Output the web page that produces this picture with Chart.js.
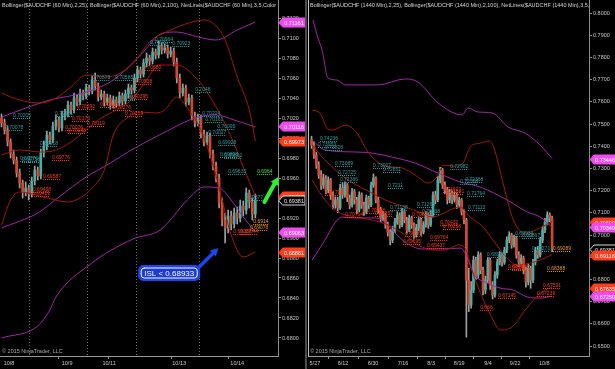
<!DOCTYPE html>
<html><head><meta charset="utf-8">
<script src="https://cdn.jsdelivr.net/npm/chart.js@4/dist/chart.umd.min.js"></script>
<style>
html,body{margin:0;padding:0;background:#000;}
#wrap{position:relative;width:615px;height:369px;background:#000;overflow:hidden;}
#c1{position:absolute;left:0;top:0;}
#c2{position:absolute;left:307px;top:0;}
#sep{position:absolute;left:305px;top:0;width:2px;height:369px;background:#4a4a4a;}
</style></head><body>
<div id="wrap"><canvas id="c1" width="305" height="369"></canvas><div id="sep"></div><canvas id="c2" width="308" height="369"></canvas></div>
<script>
// ---------------- LEFT PANEL (60 min) DATA ----------------
const L_header = 'Bollinger($AUDCHF (60 Min),2,25), Bollinger($AUDCHF (60 Min),2,100), NetLines($AUDCHF (60 Min),3,5,Color [Lime]';
const L_dateIdx = [2.5, 21.7, 35.6, 58.8, 78];
const L_dateTxt = ['10/8', '10/9', '10/11', '10/13', '10/14'];
const L_sepIdx = [16.1, 35.3, 53.5, 72.3];
const L_yTicks = [0.6800,0.6820,0.6840,0.6860,0.6880,0.6900,0.6920,0.6940,0.6960,0.6980,0.7000,0.7020,0.7040,0.7060,0.7080,0.7100,0.7120];
const L_open = [0.7020,0.7015,0.7008,0.6996,0.6984,0.6978,0.6965,0.6955,0.6946,0.6950,
0.6944,0.6957,0.6968,0.6962,0.6985,0.6992,0.7003,0.6998,0.7012,0.7018,
0.7010,0.7022,0.7025,0.7033,0.7028,0.7040,0.7036,0.7045,0.7042,0.7050,
0.7047,0.7058,0.7052,0.7041,0.7044,0.7036,0.7040,0.7033,0.7038,0.7035,
0.7042,0.7037,0.7044,0.7050,0.7048,0.7060,0.7068,0.7064,0.7075,0.7080,
0.7077,0.7086,0.7083,0.7092,0.7088,0.7090,0.7084,0.7087,0.7076,0.7060,
0.7045,0.7050,0.7036,0.7040,0.7022,0.7015,0.7020,0.7004,0.6996,0.7002,
0.6984,0.6972,0.6960,0.6935,0.6918,0.6910,0.6922,0.6914,0.6925,0.6920,
0.6932,0.6928,0.6945,0.6936,0.6924];
const L_high = [0.7024,0.7019,0.7012,0.6999,0.6988,0.6981,0.6969,0.6958,0.6956,0.6953,
0.6961,0.6972,0.6971,0.6989,0.6997,0.7007,0.7006,0.7016,0.7023,0.7021,
0.7027,0.7029,0.7037,0.7036,0.7045,0.7043,0.7049,0.7048,0.7054,0.7053,
0.7062,0.7065,0.7055,0.7048,0.7047,0.7044,0.7043,0.7042,0.7041,0.7046,
0.7045,0.7048,0.7054,0.7053,0.7064,0.7072,0.7071,0.7079,0.7085,0.7083,
0.7090,0.7089,0.7097,0.7095,0.7094,0.7093,0.7091,0.7090,0.7080,0.7064,
0.7054,0.7053,0.7044,0.7043,0.7026,0.7024,0.7023,0.7008,0.7006,0.7005,
0.6988,0.6976,0.6964,0.6940,0.6925,0.6928,0.6927,0.6930,0.6931,0.6938,
0.6937,0.6950,0.6948,0.6940,0.6944];
const L_low = [0.7011,0.7004,0.6992,0.6980,0.6974,0.6961,0.6950,0.6940,0.6942,0.6938,
0.6941,0.6953,0.6958,0.6959,0.6981,0.6988,0.6994,0.6995,0.7008,0.7006,
0.7007,0.7018,0.7021,0.7024,0.7025,0.7032,0.7033,0.7038,0.7039,0.7043,
0.7044,0.7048,0.7037,0.7038,0.7032,0.7033,0.7029,0.7030,0.7031,0.7032,
0.7033,0.7034,0.7040,0.7044,0.7045,0.7056,0.7060,0.7061,0.7071,0.7073,
0.7074,0.7079,0.7080,0.7084,0.7085,0.7080,0.7081,0.7072,0.7055,0.7040,
0.7042,0.7032,0.7033,0.7018,0.7011,0.7012,0.7000,0.6992,0.6993,0.6980,
0.6968,0.6956,0.6930,0.6912,0.6895,0.6905,0.6908,0.6910,0.6914,0.6916,
0.6922,0.6924,0.6930,0.6918,0.6920];
const L_close = [0.7015,0.7008,0.6996,0.6984,0.6978,0.6965,0.6955,0.6946,0.6950,0.6944,
0.6957,0.6968,0.6962,0.6985,0.6992,0.7003,0.6998,0.7012,0.7018,0.7010,
0.7022,0.7025,0.7033,0.7028,0.7040,0.7036,0.7045,0.7042,0.7050,0.7047,
0.7058,0.7052,0.7041,0.7044,0.7036,0.7040,0.7033,0.7038,0.7035,0.7042,
0.7037,0.7044,0.7050,0.7048,0.7060,0.7068,0.7064,0.7075,0.7080,0.7077,
0.7086,0.7083,0.7092,0.7088,0.7090,0.7084,0.7087,0.7076,0.7060,0.7045,
0.7050,0.7036,0.7040,0.7022,0.7015,0.7020,0.7004,0.6996,0.7002,0.6984,
0.6972,0.6960,0.6935,0.6918,0.6910,0.6922,0.6914,0.6925,0.6920,0.6932,
0.6928,0.6945,0.6936,0.6924,0.6938];
// Bollinger(2,25) - red
const L_bb25UpX = [0,6,13,18,23,28,34,38,44,49,56,62,67,71,74,78,82,84];
const L_bb25UpY = [0.7045,0.7038,0.7035,0.7040,0.7051,0.7063,0.7061,0.7063,0.7076,0.7096,0.7108,0.7115,0.7118,0.7112,0.7098,0.7061,0.7028,0.6997];
const L_bb25MidX = [0,6,13,18,23,28,33,38,43,48,52,58,65,71,76,80,84];
const L_bb25MidY = [0.6983,0.6988,0.6986,0.6988,0.6996,0.7008,0.7020,0.7028,0.7038,0.7058,0.7073,0.7073,0.7058,0.7031,0.7001,0.6971,0.6942];
const L_bb25LoX = [0,3,6,14,22,26,30,34,37,42,46,51,54,58,62,66,70,73,76,80,84];
const L_bb25LoY = [0.6913,0.6938,0.6946,0.6941,0.6936,0.6940,0.6950,0.6968,0.7003,0.7021,0.7026,0.7025,0.7028,0.7041,0.7028,0.7008,0.6973,0.6938,0.6903,0.6881,0.6886];
// Bollinger(2,100) - magenta
const L_bb100UpX = [0,16,27,36,41,46,53.5,58,65,71,78,84];
const L_bb100UpY = [0.7021,0.7038,0.7045,0.7056,0.7068,0.7083,0.7105,0.7106,0.7101,0.7098,0.7108,0.7116];
const L_bb100MidX = [0,12,19,28,36,43,53.5,65,71,77,84];
const L_bb100MidY = [0.6910,0.6925,0.6941,0.6961,0.6975,0.6988,0.7005,0.7021,0.7023,0.7018,0.7011];
const L_bb100LoX = [0,12,16,18,29,43.5,52.5,61.5,67,72,76,80,84];
const L_bb100LoY = [0.6800,0.6812,0.6828,0.6841,0.6873,0.6899,0.6908,0.6938,0.6951,0.6950,0.6938,0.6921,0.6906];
// NetLines price labels: [text, start bar, colour key]
const L_labels = [
['0.70078',1.2,'c'],['0.70205',3.8,'c'],['0.69770',6.1,'c'],['0.69758',6.8,'c'],['0.69918',12.7,'c'],['0.70221',17.7,'c'],
['0.70578',30,'c'],['0.70585',37.6,'c'],['0.70381',38.6,'c'],['0.70931',49.2,'c'],['0.70964',50.8,'c'],['0.70923',56.5,'c'],
['0.7046',64.1,'c'],['0.70224',66.4,'c'],['0.70161',67.4,'c'],['0.70027',68.4,'c'],['0.70095',71.4,'c'],['0.69928',71.7,'c'],
['0.69808',72.3,'c'],['0.69802',73.7,'c'],['0.69635',75,'c'],['0.69377',80.6,'c'],
['0.6964',84.6,'g'],['0.69076',82.3,'o'],['0.6914',83.3,'o'],
['0.70680',46.9,'r'],['0.70538',43.9,'r'],['0.70395',42.5,'r'],['0.70276',36.9,'r'],['0.70219',40.9,'r'],['0.70306',32.6,'r'],
['0.70292',25,'r'],['0.70175',23.3,'r'],['0.70119',28.3,'r'],['0.70076',21,'r'],['0.70048',22,'r'],['0.69776',16.7,'r'],
['0.69587',13.7,'r'],['0.69458',10.4,'r'],['0.69421',10.1,'r'],['0.69044',79,'r'],['0.69037',76.7,'r']
];
// axis price markers: [value, kind]
const L_tags = [[0.71161,'m'],[0.70116,'m'],[0.69973,'r'],[0.69417,'r'],[0.69381,'k'],[0.69063,'m'],[0.68861,'r']];
// drawn annotations (data units)
const L_islText = 'ISL < 0.68933';
const L_islAt = [55.5, 0.6865];
const L_blueArrow = [[65.1, 0.6870], [71.8, 0.6890]];
const L_greenArrow = [[87, 0.6936], [91.6, 0.6961]];

// ---------------- RIGHT PANEL (1440 min) DATA ----------------
const R_header = 'Bollinger($AUDCHF (1440 Min),2,25), Bollinger($AUDCHF (1440 Min),2,100), NetLines($AUDCHF (1440 Min),3,5,Color [Lime]';
const R_start = 1;
const R_dateIdx = [2.4, 14.2, 26.8, 39.4, 51.2, 63, 75.1, 86.5, 98.7];
const R_dateTxt = ['5/27','6/12','6/30','7/16','8/3','8/19','9/4','9/22','10/8'];
const R_yTicks = [0.65,0.66,0.67,0.68,0.69,0.70,0.71,0.72,0.73,0.74,0.75,0.76,0.77,0.78,0.79,0.80];
const R_open = [0.7430,0.7405,0.7360,0.7315,0.7270,0.7225,0.7257,0.7203,0.7248,0.7180,
0.7135,0.7158,0.7122,0.7212,0.7180,0.7225,0.7167,0.7135,0.7194,0.7158,
0.7113,0.7180,0.7135,0.7104,0.7167,0.7135,0.7225,0.7257,0.7158,0.7113,
0.7077,0.7090,0.7045,0.7014,0.6977,0.7023,0.7059,0.7090,0.7045,0.7104,
0.7068,0.7023,0.7077,0.7045,0.7000,0.7032,0.7068,0.7014,0.7045,0.7090,
0.7045,0.7090,0.7180,0.7158,0.7248,0.7293,0.7225,0.7203,0.7158,0.7189,
0.7158,0.7180,0.7135,0.7158,0.7104,0.7068,0.6797,0.6685,0.6752,0.6887,
0.6820,0.6910,0.6842,0.6752,0.6797,0.6887,0.6775,0.6730,0.6820,0.6878,
0.6910,0.6878,0.6932,0.6977,0.7000,0.6955,0.6986,0.6910,0.6878,0.6896,
0.6842,0.6788,0.6851,0.6797,0.6878,0.6932,0.6910,0.6977,0.7023,0.7059,
0.7090,0.7077];
const R_high = [0.7445,0.7420,0.7372,0.7330,0.7290,0.7275,0.7268,0.7262,0.7255,0.7195,
0.7172,0.7170,0.7228,0.7235,0.7240,0.7232,0.7180,0.7210,0.7205,0.7170,
0.7195,0.7190,0.7148,0.7180,0.7175,0.7238,0.7275,0.7262,0.7170,0.7125,
0.7108,0.7098,0.7058,0.7025,0.7040,0.7075,0.7105,0.7100,0.7120,0.7115,
0.7080,0.7090,0.7085,0.7055,0.7048,0.7082,0.7075,0.7060,0.7105,0.7098,
0.7110,0.7195,0.7198,0.7265,0.7305,0.7300,0.7240,0.7215,0.7205,0.7198,
0.7195,0.7188,0.7170,0.7165,0.7115,0.7075,0.6850,0.6790,0.6905,0.6900,
0.6925,0.6920,0.6855,0.6815,0.6900,0.6895,0.6790,0.6835,0.6892,0.6925,
0.6920,0.6945,0.6992,0.7015,0.7008,0.7000,0.6995,0.6925,0.6912,0.6905,
0.6855,0.6868,0.6860,0.6890,0.6945,0.6948,0.6990,0.7040,0.7075,0.7105,
0.7100,0.7085];
const R_low = [0.7390,0.7345,0.7300,0.7255,0.7205,0.7210,0.7185,0.7190,0.7160,0.7118,
0.7120,0.7100,0.7115,0.7165,0.7170,0.7150,0.7118,0.7125,0.7140,0.7095,
0.7105,0.7120,0.7088,0.7095,0.7118,0.7128,0.7215,0.7145,0.7098,0.7060,
0.7065,0.7030,0.6995,0.6955,0.6965,0.7010,0.7048,0.7030,0.7038,0.7055,
0.7008,0.7015,0.7030,0.6985,0.6990,0.7020,0.6998,0.7005,0.7035,0.7030,
0.7038,0.7080,0.7140,0.7150,0.7235,0.7210,0.7185,0.7140,0.7145,0.7140,
0.7148,0.7120,0.7125,0.7090,0.7050,0.6540,0.6655,0.6670,0.6740,0.6800,
0.6805,0.6825,0.6730,0.6735,0.6785,0.6755,0.6712,0.6720,0.6805,0.6865,
0.6860,0.6868,0.6920,0.6965,0.6940,0.6945,0.6895,0.6860,0.6865,0.6825,
0.6765,0.6775,0.6760,0.6785,0.6865,0.6895,0.6900,0.6965,0.7010,0.7045,
0.7060,0.6925];
const R_close = [0.7405,0.7360,0.7315,0.7270,0.7225,0.7257,0.7203,0.7248,0.7180,0.7135,
0.7158,0.7122,0.7212,0.7180,0.7225,0.7167,0.7135,0.7194,0.7158,0.7113,
0.7180,0.7135,0.7104,0.7167,0.7135,0.7225,0.7257,0.7158,0.7113,0.7077,
0.7090,0.7045,0.7014,0.6977,0.7023,0.7059,0.7090,0.7045,0.7104,0.7068,
0.7023,0.7077,0.7045,0.7000,0.7032,0.7068,0.7014,0.7045,0.7090,0.7045,
0.7090,0.7180,0.7158,0.7248,0.7293,0.7225,0.7203,0.7158,0.7189,0.7158,
0.7180,0.7135,0.7158,0.7104,0.7068,0.6797,0.6685,0.6752,0.6887,0.6820,
0.6910,0.6842,0.6752,0.6797,0.6887,0.6775,0.6730,0.6820,0.6878,0.6910,
0.6878,0.6932,0.6977,0.7000,0.6955,0.6986,0.6910,0.6878,0.6896,0.6842,
0.6788,0.6851,0.6797,0.6878,0.6932,0.6910,0.6977,0.7023,0.7059,0.7090,
0.7077,0.6938];
const R_bb25UpX = [1.2,4.5,7.5,10,15.1,20.1,23.4,26.4,31.9,39,44.5,49.9,53.3,56.6,61.3,64.6,67.6,71.8,76,77.6,81.4,85.7,90.7,97,102];
const R_bb25UpY = [0.7563,0.7550,0.7482,0.7473,0.7495,0.7459,0.7396,0.7351,0.7311,0.7302,0.7270,0.7234,0.7257,0.7315,0.7310,0.7324,0.7396,0.7414,0.7423,0.7392,0.7234,0.7068,0.7009,0.7032,0.7060];
const R_bb25MidX = [1.2,6.6,16.3,26.4,31.9,40.3,47.4,51.6,55,59.2,63.4,67.6,73,77.2,83.1,87.4,92.8,97,102];
const R_bb25MidY = [0.7405,0.7338,0.7248,0.7189,0.7158,0.7126,0.7099,0.7081,0.7090,0.7113,0.7126,0.7081,0.7036,0.6977,0.6896,0.6865,0.6874,0.6887,0.6912];
const R_bb25LoX = [1.2,6.6,12.1,19.2,26.4,33.1,40.3,45.7,52.9,57.1,62.5,65.9,68.4,70.9,76.8,80.2,85.2,90.7,94.9,99.1,102];
const R_bb25LoY = [0.7248,0.7158,0.7104,0.7081,0.7068,0.7045,0.7000,0.6955,0.6932,0.6932,0.6955,0.6932,0.6842,0.6766,0.6626,0.6572,0.6586,0.6662,0.6716,0.6752,0.6764];
const R_bb100UpX = [1.6,3.7,5.4,7.9,11.7,15.1,28.9,40.3,45.7,54.1,64.2,66.7,70.9,76.8,83.6,90.7,97,102];
const R_bb100UpY = [0.7968,0.7887,0.7833,0.7707,0.7698,0.7676,0.7676,0.7703,0.7689,0.7595,0.7541,0.7572,0.7554,0.7550,0.7486,0.7459,0.7405,0.7345];
const R_bb100MidX = [1.2,6.6,19.2,26.4,34.8,44.5,54.1,63.4,71.8,83.1,91.5,97,102];
const R_bb100MidY = [0.7428,0.7383,0.7374,0.7369,0.7351,0.7324,0.7279,0.7239,0.7216,0.7158,0.7104,0.7081,0.7035];
const R_bb100LoX = [1.2,6.6,10.8,13.8,18,26.4,30.6,36.1,40.3,47.4,54.1,63.4,66.3,68.8,74.7,80.2,85.7,91.5,97,102];
const R_bb100LoY = [0.6887,0.6977,0.7054,0.7081,0.7077,0.7077,0.7068,0.7009,0.6968,0.6937,0.6937,0.6941,0.6901,0.6829,0.6784,0.6761,0.6752,0.6721,0.6716,0.6725];
const R_labels = [
['0.73953',3.7,'c'],['0.74236',4.5,'c'],['0.73828',6.6,'c'],['0.73089',10.8,'c'],['0.72725',12.1,'c'],['0.72366',12.9,'c'],
['0.73007',26.8,'c'],['0.72851',31,'c'],['0.7211',33.1,'c'],['0.71138',34,'c'],['0.71265',45.3,'c'],['0.70938',47.4,'c'],
['0.72982',59.2,'c'],['0.72308',63.4,'c'],['0.72368',65.5,'c'],['0.71764',66.3,'c'],['0.71113',66.7,'c'],['0.68993',74.7,'c'],
['0.69934',86.5,'c'],['0.69867',89.4,'c'],['0.69271',93.6,'c'],
['0.71798',6.6,'r'],['0.70794',15.1,'r'],['0.70988',24.3,'r'],['0.70857',27.6,'r'],['0.69595',39.4,'r'],['0.69967',40.3,'r'],
['0.70811',43.2,'r'],['0.69437',49.5,'r'],['0.69764',50.8,'r'],['0.70432',55,'r'],['0.70258',56.2,'r'],['0.71927',56.2,'r'],
['0.71841',57.5,'r'],['0.666',71.8,'r'],['0.67145',79.3,'r'],['0.68468',83.5,'r'],['0.68437',85.2,'r'],['0.67239',95.7,'r'],
['0.67591',98.2,'r'],['0.68388',99.9,'o'],['0.69289',102.4,'o']
];
const R_tags = [[0.73446,'m'],[0.70600,'r'],[0.70349,'m'],[0.69381,'k'],[0.69118,'r'],[0.67635,'r'],[0.67250,'m']];
const COPYRIGHT = '\u00A9 2015 NinjaTrader, LLC';

// ---------------- STYLE ----------------
const FONT = "'Liberation Sans', Arial, sans-serif";
const COL = {up:'#4aaea6', down:'#d5482e', wick:'#a0a0a0', mag:'#a126a8', red:'#a3170c',
  lab:{c:'#2e9fa0', r:'#ff3c1c', o:'#f29a1a', g:'#40e040'},
  tag:{m:['#f24af2','#ffffff','#f24af2'], r:['#ff3c1c','#ffffff','#ff3c1c'], k:['#000000','#e6e6e6','#d8d8d8']}};
Chart.defaults.font.family = FONT;

function candleSets(start, O, H, L, C){
  return [
    {type:'bar', data:H.map((h,k)=>({x:start+k, y:[L[k],h]})), backgroundColor:COL.wick, barThickness:1, grouped:false, order:3},
    {type:'bar', data:O.map((o,k)=>({x:start+k, y:[o,C[k]]})), backgroundColor:O.map((o,k)=>C[k]>=o?COL.up:COL.down), barThickness:2, minBarLength:1, grouped:false, order:2}
  ];
}
function band(X, Y, color){
  return {type:'line', data:X.map((x,k)=>({x:x, y:Y[k]})), borderColor:color, borderWidth:1, pointRadius:0, cubicInterpolationMode:'monotone', order:1};
}
function arrow(ctx, x1, y1, x2, y2, color, w, head){
  const a = Math.atan2(y2-y1, x2-x1);
  ctx.strokeStyle=color; ctx.fillStyle=color; ctx.lineWidth=w; ctx.lineCap='round'; ctx.setLineDash([]);
  ctx.beginPath(); ctx.moveTo(x1,y1); ctx.lineTo(x2-Math.cos(a)*head*0.8, y2-Math.sin(a)*head*0.8); ctx.stroke();
  ctx.beginPath(); ctx.moveTo(x2,y2);
  ctx.lineTo(x2-Math.cos(a-0.5)*head, y2-Math.sin(a-0.5)*head);
  ctx.lineTo(x2-Math.cos(a+0.5)*head, y2-Math.sin(a+0.5)*head);
  ctx.closePath(); ctx.fill();
}
function overlay(o){
  return {id:'overlay', 
    beforeDraw(chart){ const c=chart.ctx; c.save(); c.fillStyle='#000'; c.fillRect(0,0,chart.width,chart.height); c.restore(); },
    afterDraw(chart){
      const ctx=chart.ctx, a=chart.chartArea, xs=chart.scales.x, ys=chart.scales.y;
      ctx.save();
      ctx.beginPath(); ctx.rect(a.left,a.top,a.right-a.left,a.bottom-a.top); ctx.clip();
      ctx.font='5px '+FONT; ctx.textBaseline='alphabetic'; ctx.textAlign='left';
      o.labels.forEach(([t,i,k])=>{
        const px=xs.getPixelForValue(i), py=Math.round(ys.getPixelForValue(parseFloat(t)))+0.5;
        const w=ctx.measureText(t).width;
        ctx.strokeStyle=COL.lab[k]; ctx.fillStyle=COL.lab[k]; ctx.lineWidth=1; ctx.setLineDash([1,1]);
        ctx.beginPath(); ctx.moveTo(px,py); ctx.lineTo(px+w,py); ctx.stroke();
        ctx.fillText(t, px, py-1.5);
      });
      ctx.setLineDash([]);
      ctx.font='5.5px '+FONT; ctx.fillStyle='#d4d4d4';
      ctx.fillText(o.header, a.left+2, 7);
      ctx.fillStyle='#a8a8a8';
      ctx.fillText(COPYRIGHT, a.left+2, a.bottom-3);
      if(o.left){ ctx.strokeStyle='#c0c0c0'; ctx.lineWidth=1; ctx.beginPath(); ctx.moveTo(a.left+0.5,a.top); ctx.lineTo(a.left+0.5,a.bottom); ctx.stroke(); }
      ctx.restore();
      ctx.save();
      if(o.ann){
        const n=o.ann;
        const gx1=xs.getPixelForValue(n.green[0][0]), gy1=ys.getPixelForValue(n.green[0][1]);
        const gx2=xs.getPixelForValue(n.green[1][0]), gy2=ys.getPixelForValue(n.green[1][1]);
        arrow(ctx,gx1,gy1,gx2,gy2,'#2cf22c',4,9);
        const bx1=xs.getPixelForValue(n.blue[0][0]), by1=ys.getPixelForValue(n.blue[0][1]);
        const bx2=xs.getPixelForValue(n.blue[1][0]), by2=ys.getPixelForValue(n.blue[1][1]);
        arrow(ctx,bx1,by1,bx2,by2,'#1846f0',3.5,9);
        const cx=xs.getPixelForValue(n.at[0]), cy=ys.getPixelForValue(n.at[1]);
        ctx.font='8px '+FONT;
        const w=ctx.measureText(n.text).width+10, h=14;
        ctx.beginPath(); ctx.roundRect(cx-w/2, cy-h/2, w, h, 4);
        ctx.fillStyle='#1c3ad8'; ctx.fill(); ctx.lineWidth=2; ctx.strokeStyle='#1846f0'; ctx.stroke();
        ctx.beginPath(); ctx.roundRect(cx-w/2+2, cy-h/2+2, w-4, h-4, 3); ctx.lineWidth=1; ctx.strokeStyle='#ffffff'; ctx.stroke();
        ctx.fillStyle='#ffffff'; ctx.textAlign='center'; ctx.textBaseline='middle';
        ctx.fillText(n.text, cx, cy+0.5);
      }
      ctx.font='5.5px '+FONT; ctx.textAlign='center'; ctx.textBaseline='middle';
      o.tags.forEach(([v,k])=>{
        const y=Math.round(ys.getPixelForValue(v))+0.5, x0=a.right+1, x1=a.right+27, hh=4.5;
        const [fill,txt,stroke]=COL.tag[k];
        ctx.beginPath(); ctx.moveTo(x0,y); ctx.lineTo(x0+4,y-hh); ctx.lineTo(x1,y-hh); ctx.lineTo(x1,y+hh); ctx.lineTo(x0+4,y+hh); ctx.closePath();
        ctx.fillStyle=fill; ctx.fill(); ctx.lineWidth=1; ctx.strokeStyle=stroke; ctx.stroke();
        ctx.fillStyle=txt; ctx.fillText(v.toFixed(5), (x0+4+x1)/2, y+0.5);
      });
      ctx.restore();
    }};
}
function makeChart(id, cfg){
  const isSep = v => cfg.sep.indexOf(v) >= 0;
  const isDate = v => cfg.dateIdx.indexOf(v) >= 0;
  return new Chart(document.getElementById(id), {
    type:'bar',
    data:{datasets:[...cfg.lines, ...candleSets(cfg.start, cfg.O, cfg.H, cfg.L, cfg.C)]},
    options:{
      responsive:false, animation:false, events:[],
      layout:{padding:{left:cfg.padLeft, right:0, top:0, bottom:0}},
      plugins:{legend:{display:false}, tooltip:{enabled:false}},
      scales:{
        x:{type:'linear', min:-0.5, max:cfg.xmax, offset:false,
          afterBuildTicks(s){ s.ticks=[...cfg.dateIdx, ...cfg.sep].sort((p,q)=>p-q).map(v=>({value:v})); },
          afterFit(s){ s.height=13; s.paddingLeft=0; s.paddingRight=0; },
          ticks:{autoSkip:false, maxRotation:0, minRotation:0, padding:1, color:'#c8c8c8', font:{size:5.5},
            callback(v){ const k=cfg.dateIdx.indexOf(v); return k>=0 ? cfg.dateTxt[k] : ''; }},
          grid:{drawOnChartArea:true, tickLength:3, lineWidth:1,
            color:c=> (c.tick && isSep(c.tick.value)) ? '#6c6c6c' : 'rgba(0,0,0,0)',
            tickColor:c=> (c.tick && isDate(c.tick.value)) ? '#9a9a9a' : 'rgba(0,0,0,0)'},
          border:{color:'#9a9a9a', dash:[1,2]}},
        y:{type:'linear', position:'right', min:cfg.ymin, max:cfg.ymax,
          afterBuildTicks(s){ s.ticks=cfg.yTicks.map(v=>({value:v})); },
          afterFit(s){ s.width=cfg.yw; s.paddingTop=0; s.paddingBottom=0; },
          ticks:{padding:1, color:'#c8c8c8', font:{size:5.5}, callback:v=>Number(v).toFixed(4)},
          grid:{drawOnChartArea:false, tickLength:3, color:'#8c8c8c'},
          border:{color:'#8c8c8c'}}
      }
    },
    plugins:[overlay(cfg.overlay)]
  });
}
makeChart('c1', {start:0, O:L_open, H:L_high, L:L_low, C:L_close, xmax:91.5, ymin:0.6782, ymax:0.7138, yw:27, padLeft:0,
  dateIdx:L_dateIdx, dateTxt:L_dateTxt, sep:L_sepIdx, yTicks:L_yTicks,
  lines:[band(L_bb25UpX,L_bb25UpY,COL.red), band(L_bb25MidX,L_bb25MidY,COL.red), band(L_bb25LoX,L_bb25LoY,COL.red),
         band(L_bb100UpX,L_bb100UpY,COL.mag), band(L_bb100MidX,L_bb100MidY,COL.mag), band(L_bb100LoX,L_bb100LoY,COL.mag)],
  overlay:{labels:L_labels, tags:L_tags, header:L_header, left:false,
    ann:{text:L_islText, at:L_islAt, blue:L_blueArrow, green:L_greenArrow}}});
makeChart('c2', {start:R_start, O:R_open, H:R_high, L:R_low, C:R_close, xmax:117.5, ymin:0.6455, ymax:0.80586, yw:26, padLeft:1,
  dateIdx:R_dateIdx, dateTxt:R_dateTxt, sep:[], yTicks:R_yTicks,
  lines:[band(R_bb25UpX,R_bb25UpY,COL.red), band(R_bb25MidX,R_bb25MidY,COL.red), band(R_bb25LoX,R_bb25LoY,COL.red),
         band(R_bb100UpX,R_bb100UpY,COL.mag), band(R_bb100MidX,R_bb100MidY,COL.mag), band(R_bb100LoX,R_bb100LoY,COL.mag)],
  overlay:{labels:R_labels, tags:R_tags, header:R_header, left:true, ann:null}});
</script>
</body></html>
